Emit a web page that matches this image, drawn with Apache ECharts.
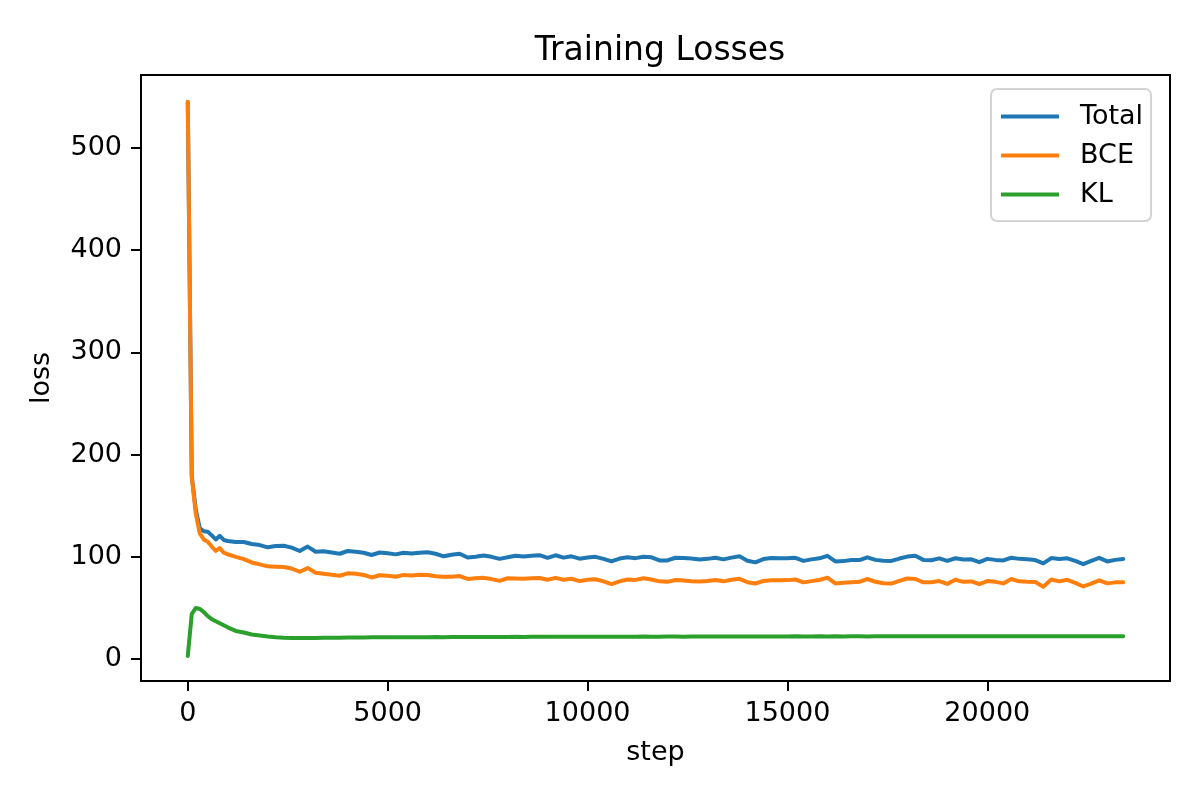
<!DOCTYPE html>
<html>
<head>
<meta charset="utf-8">
<title>Training Losses</title>
<script src="https://cdn.jsdelivr.net/npm/echarts@6/dist/echarts.min.js"></script>
<style>
  html, body { margin: 0; padding: 0; background: #fff; }
  #chart { width: 1200px; height: 800px; }
</style>
</head>
<body>
<div id="chart"></div>
<script>
// training step of each logged point
var steps = [
  0, 100, 200, 300, 400, 500, 600, 700, 800, 900,
  1000, 1200, 1400, 1600, 1800, 2000, 2200, 2400, 2600, 2800,
  3000, 3200, 3400, 3600, 3800, 4000, 4200, 4400, 4600, 4800,
  5000, 5200, 5400, 5600, 5800, 6000, 6200, 6400, 6600, 6800,
  7000, 7200, 7400, 7600, 7800, 8000, 8200, 8400, 8600, 8800,
  9000, 9200, 9400, 9600, 9800, 10000, 10200, 10400, 10600, 10800,
  11000, 11200, 11400, 11600, 11800, 12000, 12200, 12400, 12600, 12800,
  13000, 13200, 13400, 13600, 13800, 14000, 14200, 14400, 14600, 14800,
  15000, 15200, 15400, 15600, 15800, 16000, 16200, 16400, 16600, 16800,
  17000, 17200, 17400, 17600, 17800, 18000, 18200, 18400, 18600, 18800,
  19000, 19200, 19400, 19600, 19800, 20000, 20200, 20400, 20600, 20800,
  21000, 21200, 21400, 21600, 21800, 22000, 22200, 22400, 22600, 22800,
  23000, 23200, 23400
];

var totalLoss = [
  545, 179, 146, 128, 125, 124.6, 121, 117, 120.5, 116.5,
  115.5, 114.5, 114.5, 112.5, 111.5, 109.3, 110.5, 110.8, 109, 105.7,
  110, 105, 105.5, 104.3, 103, 105.7, 105, 104, 101.8, 104.2,
  103.4, 102.4, 104, 103.2, 104, 104.5, 103, 100.5, 102, 103,
  99.3, 100.1, 101.2, 100, 98, 99.5, 101, 100.3, 101, 101.6,
  99, 101.5, 99.2, 100.5, 98.2, 99.3, 100, 98, 95.5, 98.3,
  99.5, 98.7, 100.1, 99.5, 96.5, 96.5, 99.1, 98.8, 98.3, 97.3,
  98, 99.1, 97.5, 99.2, 100.5, 96.2, 94.6, 97.8, 98.8, 98.6,
  98.5, 99, 96, 97.5, 98.5, 101, 95.5, 95.8, 96.9, 96.8,
  99.5, 97, 96.2, 96, 98.3, 100.2, 101, 97, 96.7, 98.5,
  96, 98.6, 97.3, 97.5, 94.8, 98, 97, 96.5, 99.1, 98,
  97.6, 96.8, 93.6, 98.8, 97.8, 98.5, 96, 92.8, 96, 99,
  95.5, 97, 97.8
];

var bceLoss = [
  545, 178, 142, 123, 117, 114.8, 110, 105.7, 108.5, 104,
  102.5, 100, 97.8, 94.5, 92.6, 90.7, 90.3, 90, 88.5, 85.4,
  89, 84.5, 83.5, 82.4, 81.5, 83.8, 83.5, 82.3, 79.8, 82,
  81.5, 80.5, 82.3, 81.8, 82.5, 82.2, 81, 80.5, 80.5, 81.2,
  78.3, 79, 79.4, 78.2, 76.5, 79, 78.8, 78.5, 79, 79.3,
  77.6, 79.4, 77.5, 78.5, 76.2, 77.6, 78, 76, 73.3, 76,
  77.8, 77.4, 79, 77.8, 76, 75.5, 77.3, 76.8, 76.2, 75.8,
  76.4, 77.3, 76, 77.6, 78.5, 75.2, 73.9, 76.4, 77.1, 77,
  77.2, 77.8, 75, 76.2, 77.3, 79.6, 74, 74.6, 75.2, 75.5,
  78.3, 75.6, 74.2, 73.8, 76.5, 78.8, 78.3, 75, 75.2, 76.3,
  73.5, 77.5, 75.5, 75.9, 73.4, 76.3, 75.5, 74, 78.3, 76,
  75.5, 75.3, 70.8, 77.8, 76, 77.5, 74.5, 71, 73.8, 77,
  74, 75, 75
];

var klLoss = [
  3, 44, 50, 49, 46, 42, 39, 37, 35, 33,
  31, 27.5, 26, 24, 23, 22, 21.2, 20.8, 20.6, 20.5,
  20.6, 20.5, 20.7, 20.8, 20.8, 21, 21, 21.1, 21.2, 21.2,
  21.3, 21.3, 21.3, 21.4, 21.4, 21.4, 21.5, 21.4, 21.5, 21.5,
  21.5, 21.6, 21.5, 21.6, 21.6, 21.6, 21.7, 21.6, 21.7, 21.7,
  21.7, 21.8, 21.7, 21.8, 21.8, 21.8, 21.9, 21.8, 21.8, 21.9,
  21.9, 21.9, 22, 21.9, 21.9, 22, 22, 21.9, 22, 22,
  22, 22.1, 22, 22, 22.1, 22, 22.1, 22.1, 22, 22.1,
  22.1, 22.2, 22.1, 22.1, 22.2, 22.1, 22.2, 22.1, 22.2, 22.2,
  22.1, 22.2, 22.2, 22.3, 22.2, 22.3, 22.3, 22.2, 22.3, 22.2,
  22.3, 22.3, 22.2, 22.3, 22.2, 22.3, 22.3, 22.2, 22.3, 22.3,
  22.2, 22.3, 22.3, 22.2, 22.3, 22.3, 22.2, 22.3, 22.3, 22.2,
  22.3, 22.2, 22.2
];

var seriesNames = ['Total', 'BCE', 'KL'];
var seriesColors = ['#1f77b4', '#ff7f0e', '#2ca02c'];
var xTicks = [0, 5000, 10000, 15000, 20000];
var yTicks = [0, 100, 200, 300, 400, 500];

function pairs(values) {
  return steps.map(function (s, i) { return [s, values[i]]; });
}

function plain(v) { return String(v); }

var font = 'DejaVu Sans';
var myChart = echarts.init(document.getElementById('chart'), null, { renderer: 'canvas' });

var option = {
  animation: false,
  backgroundColor: '#fff',
  title: {
    text: 'Training Losses',
    left: 655,
    top: 30,
    textAlign: 'center',
    textStyle: { fontFamily: font, fontSize: 33, fontWeight: 'normal', color: '#000' }
  },
  legend: {
    orient: 'vertical',
    left: 991,
    top: 89,
    data: seriesNames,
    icon: 'rect',
    itemWidth: 58,
    itemHeight: 4,
    itemGap: 12,
    padding: [14, 8, 13, 10],
    backgroundColor: 'rgba(255,255,255,0.8)',
    borderColor: '#d4d4d4',
    borderWidth: 2,
    borderRadius: 6,
    textStyle: { fontFamily: font, fontSize: 27, color: '#000', padding: [0, 0, 0, 16] }
  },
  grid: {
    left: 141,
    right: 30,
    top: 75,
    bottom: 119,
    show: true,
    borderColor: '#000',
    borderWidth: 2,
    backgroundColor: 'transparent'
  },
  xAxis: {
    type: 'value',
    min: -1170,
    max: 24570,
    name: 'step',
    nameLocation: 'middle',
    nameGap: 58,
    nameTextStyle: { fontFamily: font, fontSize: 27, color: '#000' },
    axisLine: { show: false, onZero: false },
    splitLine: { show: false },
    axisTick: { show: true, inside: false, length: 10, lineStyle: { color: '#000', width: 2 }, customValues: xTicks },
    axisLabel: { fontFamily: font, fontSize: 27, color: '#000', margin: 19, formatter: plain, customValues: xTicks }
  },
  yAxis: {
    type: 'value',
    min: -21.5,
    max: 571.4,
    name: 'loss',
    nameLocation: 'middle',
    nameGap: 86,
    nameTextStyle: { fontFamily: font, fontSize: 27, color: '#000' },
    axisLine: { show: false, onZero: false },
    splitLine: { show: false },
    axisTick: { show: true, inside: false, length: 10, lineStyle: { color: '#000', width: 2 }, customValues: yTicks },
    axisLabel: { fontFamily: font, fontSize: 27, color: '#000', margin: 19, formatter: plain, customValues: yTicks }
  },
  series: [totalLoss, bceLoss, klLoss].map(function (vals, i) {
    return {
      name: seriesNames[i],
      type: 'line',
      data: pairs(vals),
      showSymbol: false,
      symbol: 'none',
      color: seriesColors[i],
      lineStyle: { width: 4, color: seriesColors[i], join: 'round', cap: 'round' }
    };
  })
};

myChart.setOption(option);
</script>
</body>
</html>
